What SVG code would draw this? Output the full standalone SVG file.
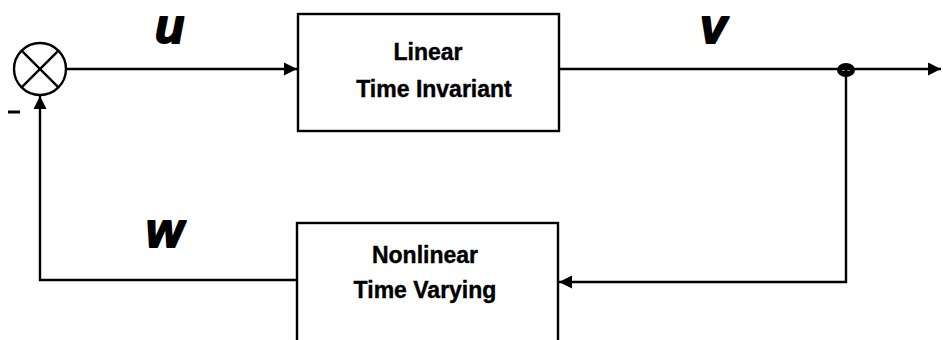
<svg xmlns="http://www.w3.org/2000/svg" width="943" height="340" viewBox="0 0 943 340">
  <style>
    .wire { fill: none; stroke: #000; stroke-width: 2.4; }
    .box { fill: #fff; stroke: #000; stroke-width: 2.4; }
    .lbl { font-family: "Liberation Sans", Arial, sans-serif; font-weight: bold; font-size: 23px; text-anchor: middle; fill: #000; stroke: #000; stroke-width: 0.4; }
    .sig { font-family: "Liberation Sans", Arial, sans-serif; font-weight: bold; font-style: italic; font-size: 48px; fill: #000; stroke: #000; stroke-width: 2; stroke-linejoin: round; }
  </style>
  <defs>
    <marker id="arrow" viewBox="0 0 10 10" refX="10" refY="5" markerWidth="5.5" markerHeight="5.5" orient="auto" markerUnits="strokeWidth">
      <path d="M0,0 L10,5 L0,10 Z" fill="#000"/>
    </marker>
  </defs>

  <!-- summing junction -->
  <g id="sum">
    <circle cx="40" cy="69" r="26" fill="#fff" stroke="#000" stroke-width="2.4"/>
    <line x1="21.6" y1="50.6" x2="58.4" y2="87.4" stroke="#000" stroke-width="2.4"/>
    <line x1="58.4" y1="50.6" x2="21.6" y2="87.4" stroke="#000" stroke-width="2.4"/>
    <line x1="8" y1="112" x2="20" y2="112" stroke="#000" stroke-width="3"/>
  </g>

  <!-- forward block -->
  <g id="lti">
    <rect class="box" x="298" y="14" width="261" height="117"/>
    <text class="lbl" x="428" y="60">Linear</text>
    <text class="lbl" x="434" y="97">Time Invariant</text>
  </g>

  <!-- feedback block -->
  <g id="ntv">
    <rect class="box" x="297" y="223" width="261" height="120"/>
    <text class="lbl" x="425" y="263">Nonlinear</text>
    <text class="lbl" x="425" y="298">Time Varying</text>
  </g>

  <!-- take-off point -->
  <g id="branch">
    <ellipse cx="846" cy="70" rx="9" ry="7" fill="#000"/>
    <line x1="842" y1="70" x2="850" y2="70" stroke="#fff" stroke-width="1.5"/>
  </g>

  <!-- connectors -->
  <g id="connectors">
    <line class="wire" x1="66" y1="69" x2="297" y2="69" marker-end="url(#arrow)"/>
    <line class="wire" x1="559" y1="69" x2="941" y2="69" marker-end="url(#arrow)"/>
    <polyline class="wire" points="846,70 846,282 559,282" marker-end="url(#arrow)"/>
    <polyline class="wire" points="297,280 40,280 40,96" marker-end="url(#arrow)"/>
  </g>

  <!-- signal names -->
  <g id="signals">
    <text class="sig" x="155" y="43">u</text>
    <text class="sig" x="700" y="43">v</text>
    <text class="sig" x="146" y="247">w</text>
  </g>
</svg>
